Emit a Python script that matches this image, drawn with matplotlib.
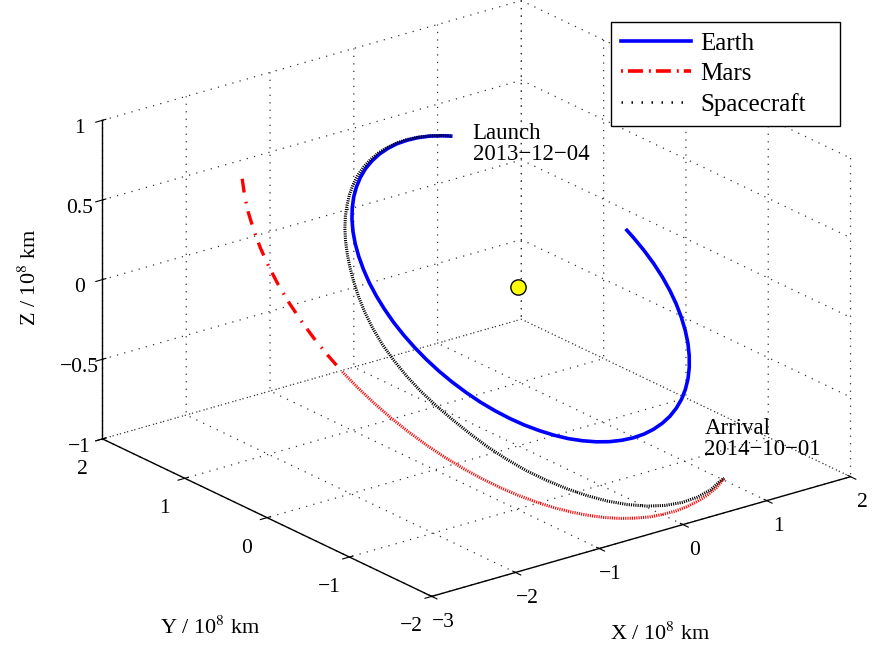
import matplotlib
matplotlib.use("Agg")
import matplotlib.pyplot as plt
from matplotlib.lines import Line2D
from matplotlib.transforms import offset_copy

plt.rcParams["font.family"] = ["Liberation Serif", "DejaVu Serif"]
plt.rcParams["mathtext.fontset"] = "stix"
plt.rcParams["grid.color"] = "0.2"
plt.rcParams["grid.linewidth"] = 0.9
plt.rcParams["lines.scale_dashes"] = False

# heliocentric positions, 10^8 km
earth_x = [0.456, 0.381, 0.256, 0.128, 0.000, -0.128, -0.255, -0.381, -0.503, -0.622, -0.736,
           -0.845, -0.948, -1.043, -1.131, -1.211, -1.281, -1.342, -1.393, -1.434, -1.464,
           -1.483, -1.491, -1.487, -1.472, -1.446, -1.409, -1.361, -1.302, -1.234, -1.155,
           -1.068, -0.972, -0.868, -0.757, -0.641, -0.519, -0.393, -0.264, -0.133, 0.000,
           0.133, 0.264, 0.394, 0.520, 0.643, 0.760, 0.871, 0.976, 1.073, 1.161, 1.241,
           1.310, 1.369, 1.418, 1.456, 1.483, 1.498, 1.501, 1.493, 1.483]
earth_y = [1.286, 1.306, 1.331, 1.346, 1.350, 1.345, 1.329, 1.304, 1.268, 1.224, 1.170,
           1.107, 1.036, 0.957, 0.871, 0.778, 0.679, 0.574, 0.465, 0.353, 0.237,
           0.119, 0.000, -0.120, -0.238, -0.356, -0.471, -0.582, -0.690, -0.793, -0.889,
           -0.979, -1.062, -1.137, -1.204, -1.261, -1.308, -1.346, -1.373, -1.389, -1.395,
           -1.390, -1.374, -1.348, -1.311, -1.264, -1.208, -1.142, -1.067, -0.984, -0.894,
           -0.797, -0.694, -0.586, -0.474, -0.358, -0.240, -0.120, 0.000, 0.120, 0.191]
earth_z = [0.558, 0.566, 0.577, 0.583, 0.585, 0.583, 0.576, 0.565, 0.550, 0.531, 0.507,
           0.480, 0.449, 0.415, 0.378, 0.337, 0.294, 0.249, 0.202, 0.153, 0.103,
           0.052, 0.000, -0.052, -0.103, -0.154, -0.204, -0.252, -0.299, -0.344, -0.386,
           -0.425, -0.461, -0.493, -0.522, -0.547, -0.567, -0.583, -0.595, -0.602, -0.605,
           -0.603, -0.596, -0.584, -0.569, -0.548, -0.524, -0.495, -0.463, -0.427, -0.388,
           -0.346, -0.301, -0.254, -0.205, -0.155, -0.104, -0.052, 0.000, 0.052, 0.083]

mars_x = [-2.011, -2.111, -2.200, -2.276, -2.341, -2.393, -2.432, -2.458, -2.470, -2.470,
          -2.456, -2.430, -2.390, -2.339, -2.276, -2.201, -2.116, -2.021, -1.917, -1.804,
          -1.684, -1.556, -1.423, -1.284, -1.141, -0.994, -0.844, -0.691, -0.538, -0.384,
          -0.229, -0.076, 0.076, 0.226, 0.373, 0.517, 0.660]
mars_y = [1.309, 1.179, 1.042, 0.899, 0.752, 0.600, 0.446, 0.290, 0.133, -0.024,
          -0.180, -0.334, -0.485, -0.633, -0.775, -0.913, -1.044, -1.168, -1.285, -1.394,
          -1.495, -1.587, -1.670, -1.743, -1.807, -1.862, -1.907, -1.941, -1.966, -1.982,
          -1.987, -1.984, -1.971, -1.949, -1.919, -1.880, -1.830]
mars_z = [0.655, 0.598, 0.537, 0.474, 0.408, 0.340, 0.270, 0.200, 0.128, 0.056,
          -0.016, -0.088, -0.158, -0.227, -0.294, -0.359, -0.422, -0.481, -0.538, -0.591,
          -0.640, -0.686, -0.727, -0.765, -0.798, -0.827, -0.852, -0.872, -0.887, -0.899,
          -0.905, -0.908, -0.906, -0.900, -0.890, -0.876, -0.850]

sc_x = [0.456, 0.382, 0.256, 0.129, 0.000, -0.129, -0.257, -0.384, -0.508, -0.630, -0.749,
        -0.863, -0.972, -1.076, -1.176, -1.270, -1.357, -1.438, -1.513, -1.582, -1.645,
        -1.699, -1.740, -1.765, -1.773, -1.764, -1.738, -1.695, -1.637, -1.571, -1.494,
        -1.400, -1.292, -1.167, -1.030, -0.881, -0.722, -0.552, -0.373, -0.189, 0.000,
        0.189, 0.376, 0.520, 0.660]
sc_y = [1.286, 1.307, 1.333, 1.349, 1.355, 1.351, 1.337, 1.314, 1.281, 1.240, 1.190,
        1.130, 1.063, 0.987, 0.905, 0.816, 0.719, 0.615, 0.505, 0.389, 0.266,
        0.136, 0.000, -0.142, -0.287, -0.434, -0.581, -0.725, -0.867, -1.009, -1.150,
        -1.285, -1.413, -1.530, -1.637, -1.734, -1.819, -1.889, -1.943, -1.977, -1.991,
        -1.984, -1.956, -1.914, -1.830]
sc_z = [0.558, 0.567, 0.578, 0.585, 0.588, 0.586, 0.580, 0.570, 0.556, 0.538, 0.516,
        0.490, 0.461, 0.428, 0.393, 0.354, 0.312, 0.267, 0.219, 0.169, 0.115,
        0.059, 0.000, -0.062, -0.124, -0.188, -0.252, -0.314, -0.376, -0.438, -0.499,
        -0.557, -0.613, -0.663, -0.710, -0.752, -0.789, -0.819, -0.842, -0.857, -0.863,
        -0.860, -0.848, -0.830, -0.850]

launch_label = "Launch\n2013\u221212\u221204"
arrival_label = "Arrival\n2014\u221210\u221201"

x_ticks = [-3, -2, -1, 0, 1, 2]
y_ticks = [-2, -1, 0, 1, 2]
z_ticks = [-1, -0.5, 0, 0.5, 1]
z_ticklabels = ["\u22121", "\u22120.5", "0", "0.5", "1"]

fig = plt.figure(figsize=(8.74, 6.49), dpi=100)
S = 1000.0
cx, cy = 463.0, 312.0
ax = fig.add_axes([(cx - S / 2) / 874, (649 - cy - S / 2) / 649, S / 874, S / 649],
                  projection="3d", proj_type="ortho")
ax.view_init(elev=21.7, azim=-127.7)
ax.set_box_aspect((531, 540, 344), zoom=0.805)

split = 11  # mars dash-dot part ends here
ax.plot(earth_x, earth_y, earth_z, color="#0000ff", lw=2.6)
ax.plot(mars_x[:split + 1], mars_y[:split + 1], mars_z[:split + 1], color="red", lw=2.4,
        dashes=(10, 6.8, 1.2, 5.8))
ax.plot(mars_x[split:], mars_y[split:], mars_z[split:], color="red", lw=2.2, dashes=(0.8, 0.8))
ax.plot(sc_x, sc_y, sc_z, color="black", lw=2.2, dashes=(0.8, 0.8))
ax.plot([0], [0], [0], "o", ms=11, mfc="yellow", mec="black", mew=1.0)

ax.text(earth_x[0], earth_y[0], earth_z[0], launch_label, fontsize=16.5, ha="left",
        va="center", linespacing=1.0,
        transform=offset_copy(ax.transData, fig=fig, x=22, y=-8, units="dots"))
ax.text(sc_x[-1], sc_y[-1], sc_z[-1], arrival_label, fontsize=16.5, ha="left", va="bottom",
        linespacing=1.0,
        transform=offset_copy(ax.transData, fig=fig, x=-20, y=18, units="dots"))

ax.set_xlim(-3, 2, view_margin=0)
ax.set_ylim(-2, 2, view_margin=0)
ax.set_zlim(-1, 1, view_margin=0)
ax.set_xticks(x_ticks)
ax.set_yticks(y_ticks)
ax.set_zticks(z_ticks)
ax.set_zticklabels(z_ticklabels)
ax.tick_params(labelsize=15.5)
ax.tick_params(axis="y", pad=10)
ax.tick_params(axis="x", pad=5)

for a in (ax.xaxis, ax.yaxis, ax.zaxis):
    a.set_pane_color((1, 1, 1, 0))
    a.line.set_color("black")
    a.line.set_linewidth(1.0)
    a.offsetText.set_visible(False)
    a._axinfo["grid"]["linestyle"] = (0, (0.9, 4.5))
    a._axinfo["grid"]["color"] = "0.2"
    a._axinfo["grid"]["linewidth"] = 0.9
for t in (ax.title, ax._left_title, ax._right_title):
    t.set_visible(False)

# axis labels placed where the reference puts them
fig.text(660 / 874, 1 - 634 / 649, "X / 10$^8$ km", fontsize=16, ha="center", va="center")
fig.text(210 / 874, 1 - 628 / 649, "Y / 10$^8$ km", fontsize=16, ha="center", va="center")
fig.text(30 / 874, 1 - 277 / 649, "Z / 10$^8$ km", fontsize=16, ha="center", va="center",
         rotation=90)

handles = [Line2D([], [], color="#0000ff", lw=2.6),
           Line2D([], [], color="red", lw=2.6, dashes=(1.4, 3.6, 10.8, 4.3)),
           Line2D([], [], color="black", lw=1.8, dashes=(1.1, 6.1))]
fig.legend(handles, ["Earth", "Mars", "Spacecraft"], loc="upper left", mode="expand",
           bbox_to_anchor=(611 / 874, 1 - 122 / 649, 229 / 874, 100 / 649), fontsize=18,
           frameon=True, fancybox=False, edgecolor="black", framealpha=1, handlelength=2.8,
           handletextpad=0.36, borderaxespad=0, borderpad=0.4, labelspacing=0.32)

fig.savefig("out.png", dpi=100)
